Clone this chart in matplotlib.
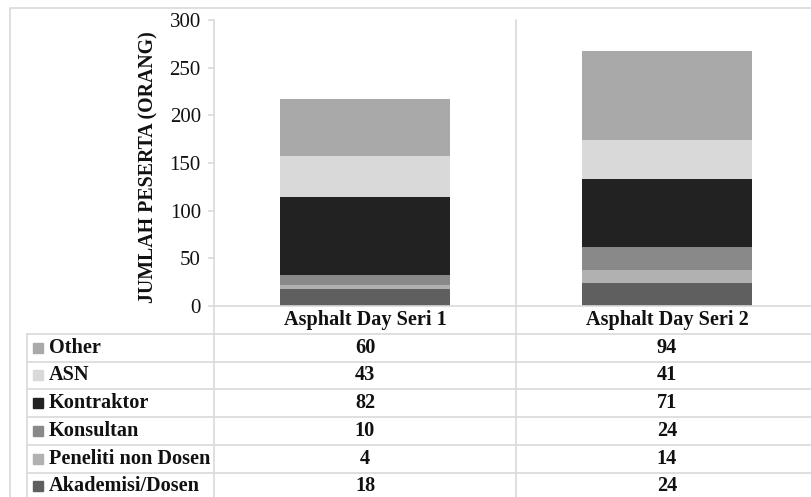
import matplotlib.pyplot as plt
from matplotlib.patches import Rectangle

# Peserta Asphalt Day per kategori (orang)
seri = ["Asphalt Day Seri 1", "Asphalt Day Seri 2"]
kategori = ["Akademisi/Dosen", "Peneliti non Dosen", "Konsultan", "Kontraktor", "ASN", "Other"]
akademisi = [18, 24]
peneliti = [4, 14]
konsultan = [10, 24]
kontraktor = [82, 71]
asn = [43, 41]
other = [60, 94]
warna = ["#5f5f5f", "#b1b1b1", "#898989", "#222222", "#d9d9d9", "#a9a9a9"]

nilai = [akademisi, peneliti, konsultan, kontraktor, asn, other]

plt.rcParams["font.family"] = ["Liberation Serif", "DejaVu Serif"]

W, H = 811, 497
GARIS = "#d9d9d9"
TEKS = "#111111"

fig = plt.figure(figsize=(W / 100, H / 100), dpi=100)

# lapisan tabel dan bingkai dalam koordinat piksel
tab = fig.add_axes([0, 0, 1, 1], zorder=0)
tab.set_xlim(0, W)
tab.set_ylim(H, 0)
tab.axis("off")

x_kiri, x_sumbu, x_kanan = 214, 214, 818
y_nol, y_atas = 306, 20
tinggi_baris = 27.75

ax = fig.add_axes([x_sumbu / W, (H - y_nol) / H, (x_kanan - x_sumbu) / W, (y_nol - y_atas) / H], zorder=1)
ax.patch.set_alpha(0)

x = list(range(len(seri)))
dasar = [0] * len(seri)
for nama, v, c in zip(kategori, nilai, warna):
    ax.bar(x, v, bottom=dasar, width=0.56, color=c, label=nama)
    dasar = [d + n for d, n in zip(dasar, v)]

ax.set_xlim(-0.5, 1.5)
ax.set_ylim(0, 300)
ax.set_yticks(range(0, 301, 50))
ax.set_xticks([])
for s in ["top", "right"]:
    ax.spines[s].set_visible(False)
for s in ["left", "bottom"]:
    ax.spines[s].set_color(GARIS)
    ax.spines[s].set_linewidth(1.2)
ax.tick_params(axis="y", direction="out", length=4.5, width=1.2, color=GARIS,
               labelsize=15, labelcolor=TEKS, pad=5)
ax.set_ylabel("JUMLAH PESERTA (ORANG)", fontsize=14.3, fontweight="bold",
              color=TEKS, va="center")
ax.yaxis.set_label_coords(-0.109, 0.486)

# bingkai luar
tab.plot([10, 10, W + 5], [H + 5, 8, 8], color=GARIS, lw=1.2)

# garis tabel
kol_tengah = [x_sumbu + (i + 0.5) * (x_kanan - x_sumbu) / len(seri) for i in x]
x_bagi = x_sumbu + (x_kanan - x_sumbu) / len(seri)
tab.plot([x_bagi, x_bagi], [y_atas, H + 5], color=GARIS, lw=1.2)
tab.plot([x_kiri, x_kiri], [y_nol, H + 5], color=GARIS, lw=1.2)
tab.plot([27, 27], [y_nol + tinggi_baris, H + 5], color=GARIS, lw=1.2)
for k in range(1, 8):
    y = y_nol + k * tinggi_baris
    tab.plot([27, W + 5], [y, y], color=GARIS, lw=1.2)

# baris judul kolom
for xc, s in zip(kol_tengah, seri):
    tab.text(xc, y_nol + tinggi_baris / 2, s, ha="center", va="center",
             fontsize=14.6, fontweight="bold", color=TEKS)

# baris data, urutan dari atas: Other ... Akademisi/Dosen
for r, (nama, v, c) in enumerate(zip(kategori[::-1], nilai[::-1], warna[::-1])):
    yc = y_nol + (r + 1.5) * tinggi_baris
    tab.add_patch(Rectangle((33, yc - 5), 10, 10, color=c))
    tab.text(49, yc, nama, ha="left", va="center", fontsize=14.6,
             fontweight="bold", color=TEKS)
    for xc, n in zip(kol_tengah, v):
        tab.text(xc, yc, str(n), ha="center", va="center", fontsize=14.6,
                 fontweight="bold", color=TEKS)

fig.savefig("out.png", dpi=100)
